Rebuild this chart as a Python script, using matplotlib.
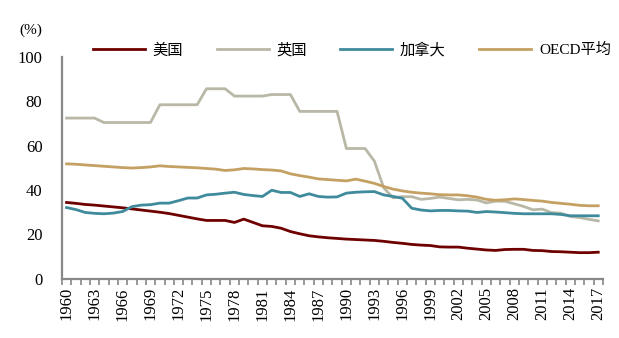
import matplotlib
matplotlib.use("Agg")
import matplotlib.pyplot as plt
from matplotlib.ticker import FixedLocator, NullFormatter
import numpy as np

plt.rcParams['font.family'] = ['Liberation Serif', 'Noto Sans CJK SC']

# ---- data ----
years = list(range(1960, 2018))

us = [34.4, 34.0, 33.5, 33.2, 32.8, 32.4, 32.0, 31.5, 31.0, 30.5,
      30.0, 29.4, 28.6, 27.8, 27.0, 26.3, 26.3, 26.3, 25.4, 26.9,
      25.4, 23.9, 23.6, 22.8, 21.3, 20.3, 19.4, 18.9, 18.5, 18.2,
      17.9, 17.7, 17.5, 17.3, 16.9, 16.4, 16.0, 15.5, 15.2, 15.0,
      14.4, 14.3, 14.3, 13.8, 13.4, 13.0, 12.8, 13.2, 13.3, 13.3,
      12.8, 12.7, 12.3, 12.2, 12.0, 11.8, 11.8, 12.0]

uk = [72.4, 72.4, 72.4, 72.4, 70.4, 70.4, 70.4, 70.4, 70.4, 70.4,
      78.4, 78.4, 78.4, 78.4, 78.4, 85.6, 85.6, 85.6, 82.3, 82.3,
      82.3, 82.3, 83.0, 83.0, 83.0, 75.4, 75.4, 75.4, 75.4, 75.4,
      58.7, 58.7, 58.7, 53.0, 41.0, 36.5, 37.0, 37.0, 35.8, 36.2,
      36.8, 36.2, 35.6, 35.8, 35.5, 34.2, 35.0, 34.9, 33.8, 32.6,
      31.1, 31.4, 29.8, 29.6, 28.1, 27.6, 26.8, 26.1]

canada = [32.1, 31.2, 29.9, 29.5, 29.3, 29.6, 30.3, 32.5, 33.2, 33.4,
          34.1, 34.1, 35.2, 36.4, 36.4, 37.8, 38.1, 38.6, 39.0, 38.0,
          37.5, 37.1, 39.9, 38.9, 38.9, 37.1, 38.3, 37.1, 36.8, 36.9,
          38.6, 39.0, 39.2, 39.3, 37.8, 37.1, 36.3, 31.8, 31.0, 30.6,
          30.8, 30.8, 30.6, 30.5, 29.9, 30.3, 30.1, 29.8, 29.5, 29.3,
          29.3, 29.3, 29.3, 29.0, 28.4, 28.4, 28.4, 28.4]

oecd = [51.8, 51.6, 51.3, 51.0, 50.7, 50.4, 50.1, 49.9, 50.1, 50.4,
        50.9, 50.6, 50.4, 50.2, 50.0, 49.7, 49.4, 48.8, 49.1, 49.7,
        49.5, 49.2, 49.0, 48.6, 47.3, 46.5, 45.8, 45.0, 44.7, 44.4,
        44.1, 44.9, 44.0, 43.0, 41.6, 40.4, 39.6, 39.0, 38.6, 38.3,
        37.9, 37.8, 37.8, 37.4, 36.8, 35.8, 35.4, 35.6, 36.0, 35.7,
        35.3, 35.0, 34.4, 34.0, 33.6, 33.1, 32.9, 32.9]

series_names = ['美国', '英国', '加拿大', 'OECD平均']
series_colors = ['#6e0000', '#b9b8a7', '#3f8b9c', '#c4a062']

# ---- figure ----
fig = plt.figure(figsize=(6.19, 3.38), dpi=100)
ax = fig.add_axes([0.1, 0.175, 0.874, 0.657])

x = np.arange(len(years))
for vals, name, col in zip([us, uk, canada, oecd], series_names, series_colors):
    ax.plot(x, vals, color=col, lw=2, label=name)

ax.set_xlim(-0.5, len(years) - 0.5)
ax.set_ylim(0, 100)

# category axis: tick marks between years, labels every 3 years
ax.xaxis.set_major_locator(FixedLocator(x[::3]))
ax.set_xticklabels([str(y) for y in years[::3]], rotation=90, fontsize=12)
ax.xaxis.set_minor_locator(FixedLocator(np.arange(-0.5, len(years), 1)))
ax.xaxis.set_minor_formatter(NullFormatter())
ax.tick_params(axis='x', which='major', length=0, pad=6)
ax.tick_params(axis='x', which='minor', length=4, width=1.2, color='#888888', direction='out')

ax.set_yticks(range(0, 101, 20))
ax.tick_params(axis='y', length=0, pad=14, labelsize=12)

for s in ['top', 'right']:
    ax.spines[s].set_visible(False)
for s in ['left', 'bottom']:
    ax.spines[s].set_color('#888888')
    ax.spines[s].set_linewidth(1.6)

fig.text(0.05, 0.91, '(%)', fontsize=11, ha='center', va='center')

fig.legend(loc='center left', bbox_to_anchor=(0.128, 0.852), ncol=4, frameon=False,
           fontsize=11, handlelength=3.4, handletextpad=0.5, columnspacing=2.2)

fig.savefig('out.png', dpi=100)
